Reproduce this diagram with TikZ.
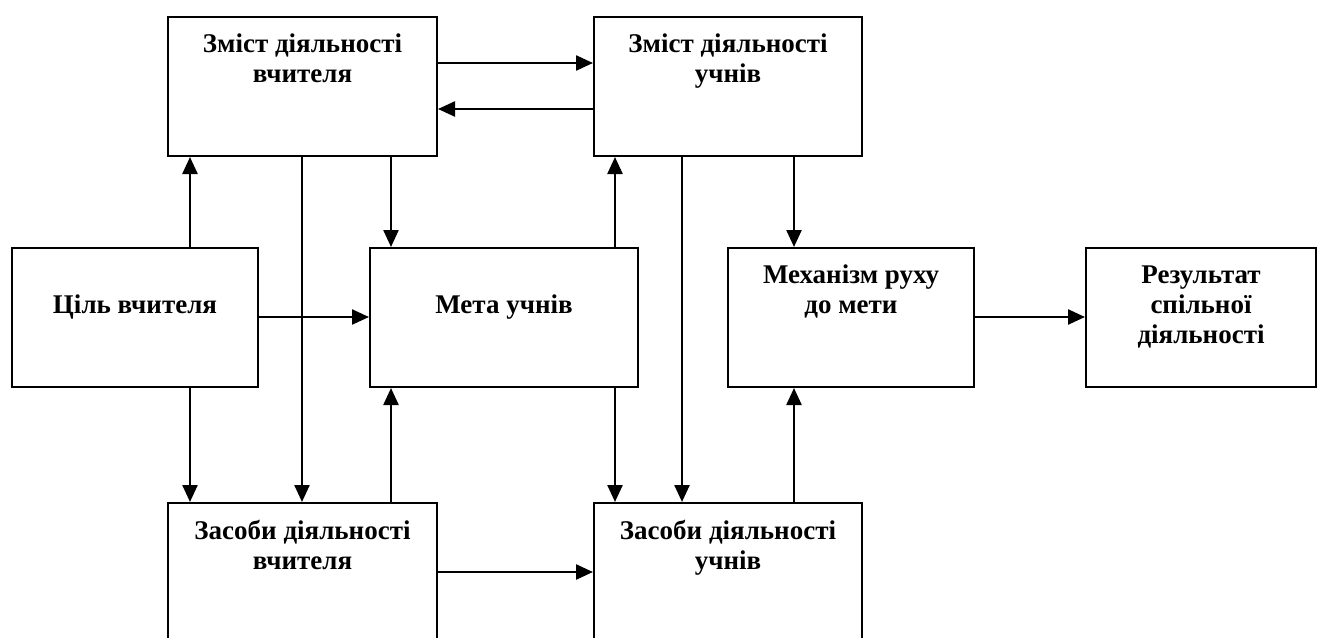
\documentclass[tikz,border=0pt]{standalone}
\usepackage{fontspec}
\setmainfont{Liberation Serif}
\usetikzlibrary{arrows.meta,positioning}

\begin{document}
\begin{tikzpicture}[x=1pt,y=-1pt,->,>={Triangle[length=17pt,width=15pt]},line width=2.4pt]
    \tikzstyle{box}=[draw,line width=2pt,rectangle,anchor=north west,inner sep=0pt]
    \tikzstyle{txt}=[anchor=north,align=center,inner sep=0pt,font=\fontsize{27}{30}\selectfont\bfseries]

    \useasboundingbox (0,0) rectangle (1322,637);
    \clip (0,0) rectangle (1322,637);

    % boxes
    \node[box,minimum width=269pt,minimum height=139pt] (A) at (167,16)   {};
    \node[box,minimum width=268pt,minimum height=139pt] (B) at (593,16)   {};
    \node[box,minimum width=246pt,minimum height=139pt] (C) at (11,247)   {};
    \node[box,minimum width=268pt,minimum height=139pt] (D) at (369,247)  {};
    \node[box,minimum width=246pt,minimum height=139pt] (E) at (727,247)  {};
    \node[box,minimum width=230pt,minimum height=139pt] (F) at (1085,247) {};
    \node[box,minimum width=269pt,minimum height=160pt] (G) at (167,502)  {};
    \node[box,minimum width=268pt,minimum height=160pt] (H) at (593,502)  {};

    % texts
    \node[txt,below=17pt of A.north] (At) {Зміст діяльності\\вчителя};
    \node[txt,below=17pt of B.north] (Bt) {Зміст діяльності\\учнів};
    \node[txt,below=47pt of C.north] (Ct) {Ціль вчителя};
    \node[txt,below=47pt of D.north] (Dt) {Мета учнів};
    \node[txt,below=17pt of E.north] (Et) {Механізм руху\\до мети};
    \node[txt,below=18pt of F.north] (Ft) {Результат\\спільної\\діяльності};
    \node[txt,below=17pt of G.north] (Gt) {Засоби діяльності\\вчителя};
    \node[txt,below=17pt of H.north] (Ht) {Засоби діяльності\\учнів};

    % lanes
    \coordinate (x1) at (190,0);
    \coordinate (x2) at (302,0);
    \coordinate (x3) at (391,0);
    \coordinate (x4) at (615,0);
    \coordinate (x5) at (682,0);
    \coordinate (x6) at (794,0);
    \coordinate (y1) at (0,63);
    \coordinate (y2) at (0,109);
    \coordinate (y3) at (0,317);
    \coordinate (y4) at (0,572);

    \draw (A.east |- y1) -- (B.west |- y1);
    \draw (B.west |- y2) -- (A.east |- y2);
    \draw (C.north -| x1) -- (A.south -| x1);
    \draw (C.south -| x1) -- (G.north -| x1);
    \draw (C.east |- y3) -- (D.west |- y3);
    \draw (A.south -| x2) -- (G.north -| x2);
    \draw (A.south -| x3) -- (D.north -| x3);
    \draw (G.north -| x3) -- (D.south -| x3);
    \draw (D.north -| x4) -- (B.south -| x4);
    \draw (D.south -| x4) -- (H.north -| x4);
    \draw (B.south -| x5) -- (H.north -| x5);
    \draw (B.south -| x6) -- (E.north -| x6);
    \draw (H.north -| x6) -- (E.south -| x6);
    \draw (E.east |- y3) -- (F.west |- y3);
    \draw (G.east |- y4) -- (H.west |- y4);
\end{tikzpicture}
\end{document}
